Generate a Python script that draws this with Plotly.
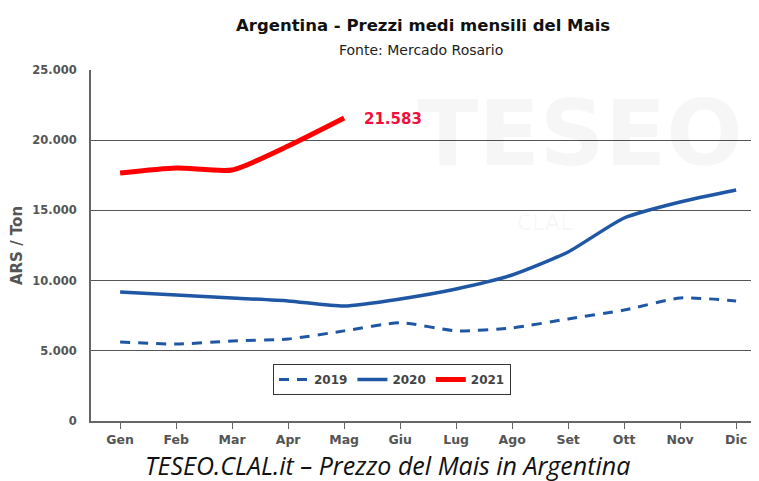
# Prezzi medi mensili del Mais - Argentina
import plotly.graph_objects as go

mesi = ['Gen', 'Feb', 'Mar', 'Apr', 'Mag', 'Giu', 'Lug', 'Ago', 'Set', 'Ott', 'Nov', 'Dic']
prezzi_2019 = [5630, 5480, 5700, 5840, 6420, 7000, 6420, 6630, 7270, 7900, 8760, 8550]
prezzi_2020 = [9190, 8970, 8760, 8550, 8190, 8690, 9400, 10400, 12040, 14460, 15600, 16450]
prezzi_2021 = [17660, 18020, 17880, 19590, 21583]

x_idx = list(range(len(mesi)))
blu = '#1f57a4'
rosso = '#ff0000'
font_assi = 'DejaVu Sans'

# la pagina html ha un margine di 8px: la figura parte da (8, 8)
OFF = 8
W, H = 759 - OFF, 481 - OFF
L, R, T, B = 91 - OFF, 0, 70 - OFF, 481 - 421
pw, ph = W - L - R, H - T - B


def px_x(x):
    return (x - OFF - L) / pw


def px_y(y):
    return (H - B - (y - OFF)) / ph


def testo(x, y, text, **font):
    fig.add_annotation(x=px_x(x), y=px_y(y), xref='paper', yref='paper', text=text,
                       showarrow=False, xanchor='center', yanchor='middle', font=font)


fig = go.Figure()

# watermark
testo(580, 133, 'TESEO', family='DejaVu Sans', size=90, color='rgba(0,0,0,0.035)', weight='bold')
testo(545, 222, 'CLAL', family='DejaVu Sans', size=22, color='rgba(0,0,0,0.045)')

fig.add_trace(go.Scatter(
    x=x_idx, y=prezzi_2019, name='2019', mode='lines',
    line=dict(color=blu, width=3, dash='10px,8px', shape='spline', smoothing=0.6)))
fig.add_trace(go.Scatter(
    x=x_idx, y=prezzi_2020, name='2020', mode='lines',
    line=dict(color=blu, width=3.5, shape='spline', smoothing=0.6)))
fig.add_trace(go.Scatter(
    x=x_idx[:len(prezzi_2021)], y=prezzi_2021, name='2021', mode='lines',
    line=dict(color=rosso, width=5, shape='spline', smoothing=0.6)))

# etichetta ultimo valore
fig.add_annotation(
    x=len(prezzi_2021) - 1, y=prezzi_2021[-1], text=f"{prezzi_2021[-1]:,}".replace(',', '.'),
    showarrow=False, xanchor='left', xshift=18, yshift=-1,
    font=dict(family=font_assi, size=15, color='#f0103c', weight='bold'))

# titoli
testo(423, 25, 'Argentina - Prezzi medi mensili del Mais',
      family=font_assi, size=16.5, color='#111111', weight='bold')
testo(421, 50, 'Fonte: Mercado Rosario', family=font_assi, size=14, color='#222222')
testo(387, 465, '<i>TESEO.CLAL.it – Prezzo del Mais in Argentina</i>',
      family='Open Sans', size=25, color='#111111')

fig.update_xaxes(
    range=[-0.52, -0.52 + pw / 56], tickvals=x_idx, ticktext=mesi, automargin=False,
    showgrid=False, zeroline=False, showline=True, linecolor='#666666', linewidth=2,
    ticks='outside', ticklen=6, tickcolor='#666666',
    tickfont=dict(family=font_assi, size=12.5, color='#555555', weight='bold'))
fig.update_yaxes(
    range=[0, 25000], dtick=5000, tickformat=',d', automargin=False,
    showgrid=True, gridcolor='#555555', gridwidth=1, zeroline=False,
    showline=True, linecolor='#666666', linewidth=2, mirror=False,
    ticks='', ticklabelstandoff=10,
    tickfont=dict(family=font_assi, size=11.5, color='#555555', weight='bold'),
    title=dict(text='ARS / Ton', standoff=12,
               font=dict(family=font_assi, size=15, color='#555555', weight='bold')))

fig.update_layout(
    width=W, height=H, separators=',.',
    margin=dict(l=L, r=R, t=T, b=B, autoexpand=False),
    plot_bgcolor='white', paper_bgcolor='white',
    showlegend=True,
    legend=dict(orientation='h', x=px_x(273), y=px_y(364), xanchor='left', yanchor='top',
                bordercolor='#333333', borderwidth=1, bgcolor='white',
                font=dict(family=font_assi, size=12, color='#444444', weight='bold'),
                itemwidth=30, tracegroupgap=0))

fig.write_html("out.html")
